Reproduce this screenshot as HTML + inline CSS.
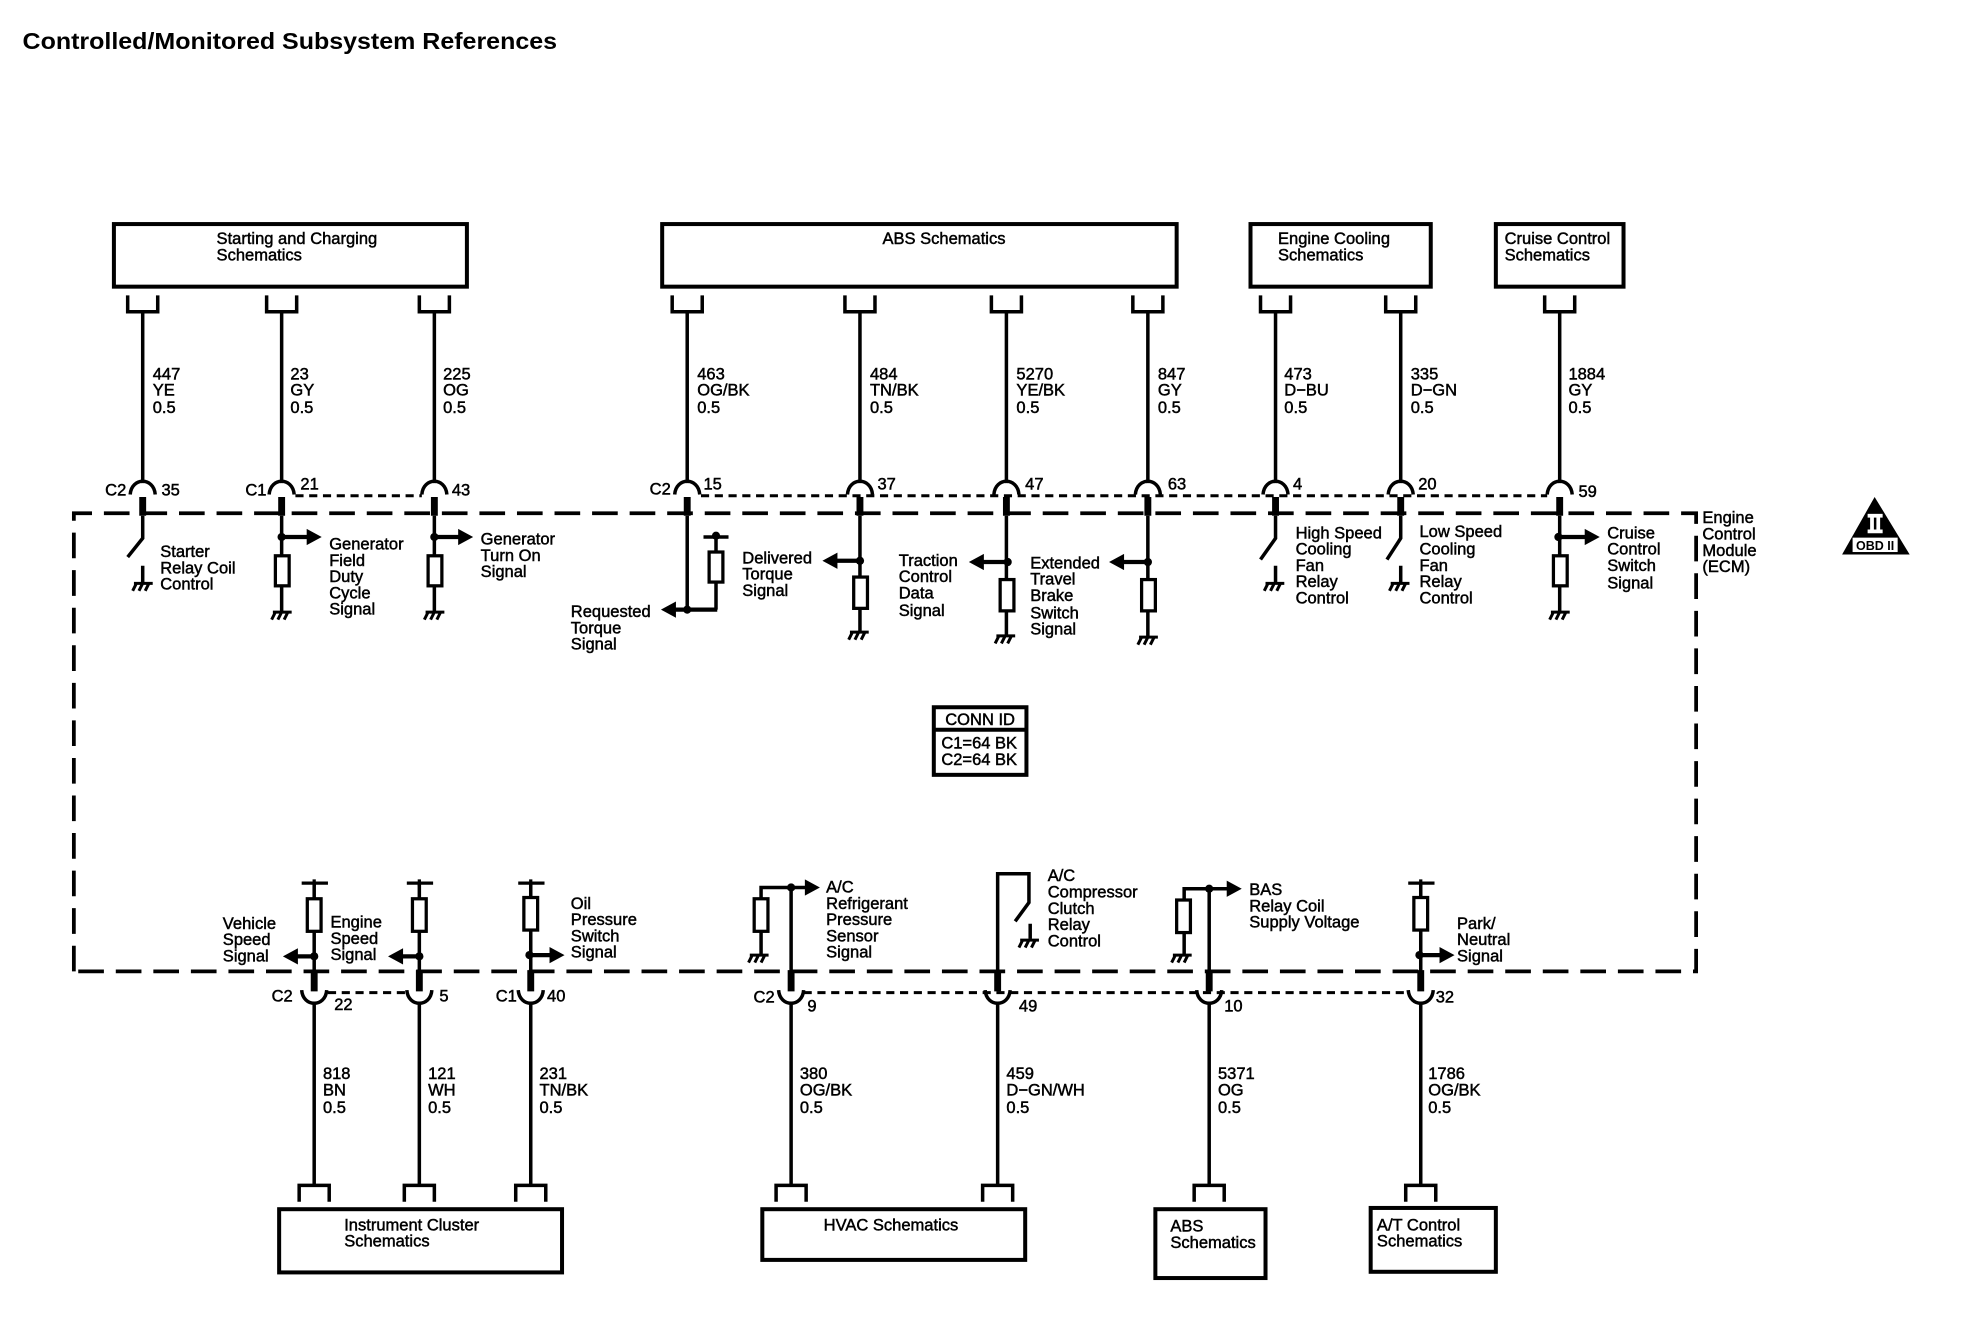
<!DOCTYPE html>
<html><head><meta charset="utf-8"><title>Controlled/Monitored Subsystem References</title>
<style>
html,body{margin:0;padding:0;background:#fff}
svg{display:block}
text{font-family:"Liberation Sans",Arial,sans-serif;font-size:13.2px;fill:#000;stroke:#000;stroke-width:.38px}
.l{fill:none;stroke:#000;stroke-width:2.8}
.b{fill:none;stroke:#000;stroke-width:3.2}
.s{fill:none;stroke:#000;stroke-width:5.5}
.d{fill:none;stroke:#000;stroke-width:2.4;stroke-dasharray:6.5 4.5}
.r{fill:#fff;stroke:#000;stroke-width:2.6}
.f{fill:#000;stroke:none}
</style></head><body>
<svg xmlns="http://www.w3.org/2000/svg" width="1962" height="1328" viewBox="0 0 1567.400 1060.900">
<defs>
<g id="g"><path d="M-7 0H8M-5 0L-8 6M0 0L-3 6M5 0L2 6" fill="none" stroke="#000" stroke-width="2.4"/></g>
<path id="ar" d="M0 0L-12 -6.500V6.500Z" fill="#000"/>
<path id="al" d="M0 0L12 -6.500V6.500Z" fill="#000"/>
<path id="cup" d="M-12 236V249H12V236" fill="none" stroke="#000" stroke-width="2.8"/>
<path id="cdn" d="M-12 960V947H12V960" fill="none" stroke="#000" stroke-width="2.8"/>
<path id="at" d="M-10 395C-9 381 9 381 10 395" fill="none" stroke="#000" stroke-width="2.8"/>
<path id="ab" d="M-10 791C-9 805 9 805 10 791" fill="none" stroke="#000" stroke-width="2.8"/>
<path id="cap" d="M-10 705.500H11M0 702.500V708" fill="none" stroke="#000" stroke-width="2.6"/>
</defs>

<text x="18" y="39" textLength="427" lengthAdjust="spacingAndGlyphs" style="font-weight:bold;font-size:18.7px;stroke:none">Controlled/Monitored Subsystem References</text>

<!-- boundary -->
<path d="M59 776V410H1355V776Z" fill="none" stroke="#000" stroke-width="3" stroke-dasharray="20.500 9.500"/>

<!-- top boxes -->
<rect class="b" x="91" y="179" width="282" height="50"/>
<rect class="b" x="529" y="179" width="411" height="50"/>
<rect class="b" x="999" y="179" width="144" height="50"/>
<rect class="b" x="1195" y="179" width="102" height="50"/>
<text x="173" y="195">Starting and Charging</text><text x="173" y="208">Schematics</text>
<text x="705" y="195">ABS Schematics</text>
<text x="1021" y="195">Engine Cooling</text><text x="1021" y="208">Schematics</text>
<text x="1202" y="195">Cruise Control</text><text x="1202" y="208">Schematics</text>

<!-- top cups, wires, arcs, stubs -->
<use href="#cup" x="114"/><use href="#cup" x="225"/><use href="#cup" x="347"/><use href="#cup" x="549"/><use href="#cup" x="687"/><use href="#cup" x="804"/><use href="#cup" x="917"/><use href="#cup" x="1019"/><use href="#cup" x="1119"/><use href="#cup" x="1246"/>
<use href="#at" x="114"/><use href="#at" x="225"/><use href="#at" x="347"/><use href="#at" x="549"/><use href="#at" x="687"/><use href="#at" x="804"/><use href="#at" x="917"/><use href="#at" x="1019"/><use href="#at" x="1119"/><use href="#at" x="1246"/>
<path class="l" d="M114 249V386M225 249V386M347 249V386M549 249V386M687 249V386M804 249V386M917 249V386M1019 249V386M1119 249V386M1246 249V386"/>
<path class="s" d="M114 397V412M225 397V412M347 397V412M549 397V412M687 397V412M804 397V412M917 397V412M1019 397V412M1119 397V412M1246 397V412"/>
<path class="d" d="M236 396H337M560 396H1236"/>

<g>
<text x="122" y="303">447</text><text x="122" y="316">YE</text><text x="122" y="330">0.5</text>
<text x="232" y="303">23</text><text x="232" y="316">GY</text><text x="232" y="330">0.5</text>
<text x="354" y="303">225</text><text x="354" y="316">OG</text><text x="354" y="330">0.5</text>
<text x="557" y="303">463</text><text x="557" y="316">OG/BK</text><text x="557" y="330">0.5</text>
<text x="695" y="303">484</text><text x="695" y="316">TN/BK</text><text x="695" y="330">0.5</text>
<text x="812" y="303">5270</text><text x="812" y="316">YE/BK</text><text x="812" y="330">0.5</text>
<text x="925" y="303">847</text><text x="925" y="316">GY</text><text x="925" y="330">0.5</text>
<text x="1026" y="303">473</text><text x="1026" y="316">D−BU</text><text x="1026" y="330">0.5</text>
<text x="1127" y="303">335</text><text x="1127" y="316">D−GN</text><text x="1127" y="330">0.5</text>
<text x="1253" y="303">1884</text><text x="1253" y="316">GY</text><text x="1253" y="330">0.5</text>
</g>
<!-- top pin labels -->
<text x="84" y="396">C2</text><text x="129" y="396">35</text>
<text x="196" y="396">C1</text><text x="240" y="391">21</text><text x="361" y="396">43</text>
<text x="519" y="395">C2</text><text x="562" y="391">15</text><text x="701" y="391">37</text><text x="819" y="391">47</text><text x="933" y="391">63</text>
<text x="1033" y="391">4</text><text x="1133" y="391">20</text><text x="1261" y="397">59</text>

<!-- pin 35 -->
<path class="l" d="M114 412V430L102 445M114 452V466"/><use href="#g" x="114" y="466"/>
<text x="128" y="445">Starter</text><text x="128" y="458">Relay Coil</text><text x="128" y="471">Control</text>
<!-- pin 21 -->
<path class="l" d="M225 412V444M225 468V489"/><path d="M225 429H247" fill="none" stroke="#000" stroke-width="3.4"/><circle class="f" cx="225" cy="429" r="3.300"/><use href="#ar" x="257" y="429"/>
<rect class="r" x="220" y="444" width="11" height="24"/><use href="#g" x="225" y="489"/>
<text x="263" y="439">Generator</text><text x="263" y="452">Field</text><text x="263" y="465">Duty</text><text x="263" y="478">Cycle</text><text x="263" y="491">Signal</text>
<!-- pin 43 -->
<path class="l" d="M347 412V444M347 468V489"/><path d="M347 429H368" fill="none" stroke="#000" stroke-width="3.4"/><circle class="f" cx="347" cy="429" r="3.300"/><use href="#ar" x="378" y="429"/>
<rect class="r" x="342" y="444" width="11" height="24"/><use href="#g" x="347" y="489"/>
<text x="384" y="435">Generator</text><text x="384" y="448">Turn On</text><text x="384" y="461">Signal</text>
<!-- pin 15 -->
<path class="l" d="M549 412V487M572 487V465M572 441V429M562 429H582"/><path d="M536 487H573" fill="none" stroke="#000" stroke-width="3.400"/><circle class="f" cx="549" cy="487" r="3.300"/><use href="#al" x="528" y="487"/>
<rect class="r" x="566.500" y="441" width="11" height="24"/><circle class="f" cx="572" cy="428" r="3.300"/>
<text x="456" y="493">Requested</text><text x="456" y="506">Torque</text><text x="456" y="519">Signal</text>
<text x="593" y="450">Delivered</text><text x="593" y="463">Torque</text><text x="593" y="476">Signal</text>
<!-- pin 37 -->
<path class="l" d="M687 412V461M687 486V505"/><path d="M667 448H687" fill="none" stroke="#000" stroke-width="3.400"/><circle class="f" cx="687" cy="448" r="3.300"/><use href="#al" x="657" y="448"/>
<rect class="r" x="682" y="461" width="11" height="25"/><use href="#g" x="686" y="505"/>
<!-- pin 47 -->
<path class="l" d="M804 412V463M804 488V508"/><path d="M784 449H804" fill="none" stroke="#000" stroke-width="3.400"/><circle class="f" cx="805" cy="449" r="3.300"/><use href="#al" x="774" y="449"/>
<rect class="r" x="799" y="463" width="11" height="25"/><use href="#g" x="803" y="508"/>
<text x="718" y="452">Traction</text><text x="718" y="465">Control</text><text x="718" y="478">Data</text><text x="718" y="492">Signal</text>
<!-- pin 63 -->
<path class="l" d="M917 412V463M917 488V509"/><path d="M896 449H917" fill="none" stroke="#000" stroke-width="3.400"/><circle class="f" cx="917" cy="449" r="3.300"/><use href="#al" x="886" y="449"/>
<rect class="r" x="912" y="463" width="11" height="25"/><use href="#g" x="917" y="509"/>
<text x="823" y="454">Extended</text><text x="823" y="467">Travel</text><text x="823" y="480">Brake</text><text x="823" y="494">Switch</text><text x="823" y="507">Signal</text>
<!-- pin 4 -->
<path class="l" d="M1019 412V430L1007 447M1019 452V465"/><use href="#g" x="1018" y="466"/>
<text x="1035" y="430">High Speed</text><text x="1035" y="443">Cooling</text><text x="1035" y="456">Fan</text><text x="1035" y="469">Relay</text><text x="1035" y="482">Control</text>
<!-- pin 20 -->
<path class="l" d="M1119 412V430L1108 447M1119 452V465"/><use href="#g" x="1118" y="466"/>
<text x="1134" y="429">Low Speed</text><text x="1134" y="443">Cooling</text><text x="1134" y="456">Fan</text><text x="1134" y="469">Relay</text><text x="1134" y="482">Control</text>
<!-- pin 59 -->
<path class="l" d="M1246 412V444M1246 468V489"/><path d="M1246 429H1268" fill="none" stroke="#000" stroke-width="3.400"/><circle class="f" cx="1245" cy="429" r="3.300"/><use href="#ar" x="1278" y="429"/>
<rect class="r" x="1241" y="444" width="11" height="24"/><use href="#g" x="1246" y="489"/>
<text x="1284" y="430">Cruise</text><text x="1284" y="443">Control</text><text x="1284" y="456">Switch</text><text x="1284" y="470">Signal</text>

<text x="1360" y="418">Engine</text><text x="1360" y="431">Control</text><text x="1360" y="444">Module</text><text x="1360" y="457">(ECM)</text>

<!-- OBD -->
<path class="f" d="M1497.600 397L1525.600 443H1471.600Z"/>
<rect x="1480" y="429.500" width="36" height="11.500" fill="#fff"/>
<rect x="1492" y="410.500" width="12" height="3" fill="#fff"/><rect x="1492" y="423" width="12" height="3" fill="#fff"/>
<rect x="1494" y="413" width="3" height="10" fill="#fff"/><rect x="1499" y="413" width="3" height="10" fill="#fff"/>
<text x="1498" y="439.500" text-anchor="middle" style="font-size:10px;font-weight:bold;stroke-width:0">OBD II</text>

<!-- CONN ID -->
<rect class="b" x="746" y="565" width="74" height="54"/>
<path class="b" d="M746 583H820"/>
<text x="783" y="579" text-anchor="middle">CONN ID</text>
<text x="752" y="598">C1=64 BK</text><text x="752" y="611">C2=64 BK</text>

<!-- bottom wires -->
<use href="#cdn" x="251"/><use href="#cdn" x="335"/><use href="#cdn" x="424"/><use href="#cdn" x="632"/><use href="#cdn" x="797"/><use href="#cdn" x="966"/><use href="#cdn" x="1135"/>
<use href="#ab" x="251"/><use href="#ab" x="335"/><use href="#ab" x="424"/><use href="#ab" x="632"/><use href="#ab" x="797"/><use href="#ab" x="966"/><use href="#ab" x="1135"/>
<path class="l" d="M251 801V947M335 801V947M424 801V947M632 801V947M797 801V947M966 801V947M1135 801V947"/>
<path class="s" d="M251 775V792M335 775V792M424 775V792M632 775V792M797 775V792M966 775V792M1135 775V792"/>
<path class="d" d="M262 793H325M642 793H1125"/>

<text x="258" y="862">818</text><text x="258" y="875">BN</text><text x="258" y="889">0.5</text>
<text x="342" y="862">121</text><text x="342" y="875">WH</text><text x="342" y="889">0.5</text>
<text x="431" y="862">231</text><text x="431" y="875">TN/BK</text><text x="431" y="889">0.5</text>
<text x="639" y="862">380</text><text x="639" y="875">OG/BK</text><text x="639" y="889">0.5</text>
<text x="804" y="862">459</text><text x="804" y="875">D−GN/WH</text><text x="804" y="889">0.5</text>
<text x="973" y="862">5371</text><text x="973" y="875">OG</text><text x="973" y="889">0.5</text>
<text x="1141" y="862">1786</text><text x="1141" y="875">OG/BK</text><text x="1141" y="889">0.5</text>

<text x="217" y="800">C2</text><text x="267" y="807">22</text><text x="351" y="800">5</text><text x="396" y="800">C1</text><text x="437" y="800">40</text>
<text x="602" y="801">C2</text><text x="645" y="808">9</text><text x="814" y="808">49</text><text x="978" y="808">10</text><text x="1147" y="801">32</text>

<!-- bottom boxes -->
<rect class="b" x="223" y="966" width="226" height="50.500"/>
<rect class="b" x="609" y="966" width="210" height="40.500"/>
<rect class="b" x="923" y="966" width="88" height="55"/>
<rect class="b" x="1095" y="965" width="100" height="51"/>
<text x="275" y="983">Instrument Cluster</text><text x="275" y="996">Schematics</text>
<text x="658" y="983">HVAC Schematics</text>
<text x="935" y="984">ABS</text><text x="935" y="997">Schematics</text>
<text x="1100" y="983">A/T Control</text><text x="1100" y="996">Schematics</text>

<!-- pin 22 -->
<use href="#cap" x="251"/>
<path class="l" d="M251 706V718M251 744V776"/><path d="M235 764H251" fill="none" stroke="#000" stroke-width="3.400"/><rect class="r" x="245.500" y="718" width="11" height="26"/><circle class="f" cx="251" cy="764" r="3.300"/><use href="#al" x="226" y="764"/>
<text x="178" y="742">Vehicle</text><text x="178" y="755">Speed</text><text x="178" y="768">Signal</text>
<text x="264" y="741">Engine</text><text x="264" y="754">Speed</text><text x="264" y="767">Signal</text>
<!-- pin 5 -->
<use href="#cap" x="335"/>
<path class="l" d="M335 706V718M335 744V776"/><path d="M319 764H335" fill="none" stroke="#000" stroke-width="3.400"/><rect class="r" x="329.500" y="718" width="11" height="26"/><circle class="f" cx="335" cy="764" r="3.300"/><use href="#al" x="310" y="764"/>
<!-- pin 40 -->
<use href="#cap" x="424"/>
<path class="l" d="M424 706V717M424 743V776"/><path d="M424 763H441" fill="none" stroke="#000" stroke-width="3.400"/><rect class="r" x="418.500" y="717" width="11" height="26"/><circle class="f" cx="423" cy="763" r="3.300"/><use href="#ar" x="451" y="763"/>
<text x="456" y="726">Oil</text><text x="456" y="739">Pressure</text><text x="456" y="752">Switch</text><text x="456" y="765">Signal</text>
<!-- pin 9 -->
<path class="l" d="M632 709V776M608 718V709H644M608 744V763"/><rect class="r" x="602.500" y="718" width="11" height="26"/><circle class="f" cx="632" cy="709" r="3.300"/><use href="#ar" x="655" y="709"/><use href="#g" x="606" y="763"/>
<text x="660" y="713">A/C</text><text x="660" y="726">Refrigerant</text><text x="660" y="739">Pressure</text><text x="660" y="752">Sensor</text><text x="660" y="765">Signal</text>
<!-- pin 49 -->
<path class="l" d="M797 776V698H822V721L811 736M823 738V750"/><use href="#g" x="822" y="751"/>
<text x="837" y="704">A/C</text><text x="837" y="717">Compressor</text><text x="837" y="730">Clutch</text><text x="837" y="743">Relay</text><text x="837" y="756">Control</text>
<!-- pin 10 -->
<path class="l" d="M966 710V776M946 719V710H981M946 745V763"/><rect class="r" x="940" y="719" width="11" height="26"/><circle class="f" cx="966" cy="710" r="3.300"/><use href="#ar" x="992" y="710"/><use href="#g" x="944" y="763"/>
<text x="998" y="715">BAS</text><text x="998" y="728">Relay Coil</text><text x="998" y="741">Supply Voltage</text>
<!-- pin 32 -->
<use href="#cap" x="1135"/>
<path class="l" d="M1135 706V717M1135 743V776"/><path d="M1135 763H1152" fill="none" stroke="#000" stroke-width="3.400"/><rect class="r" x="1129.500" y="717" width="11" height="26"/><circle class="f" cx="1134" cy="763" r="3.300"/><use href="#ar" x="1162" y="763"/>
<text x="1164" y="742">Park/</text><text x="1164" y="755">Neutral</text><text x="1164" y="768">Signal</text>
</svg>
</body></html>
